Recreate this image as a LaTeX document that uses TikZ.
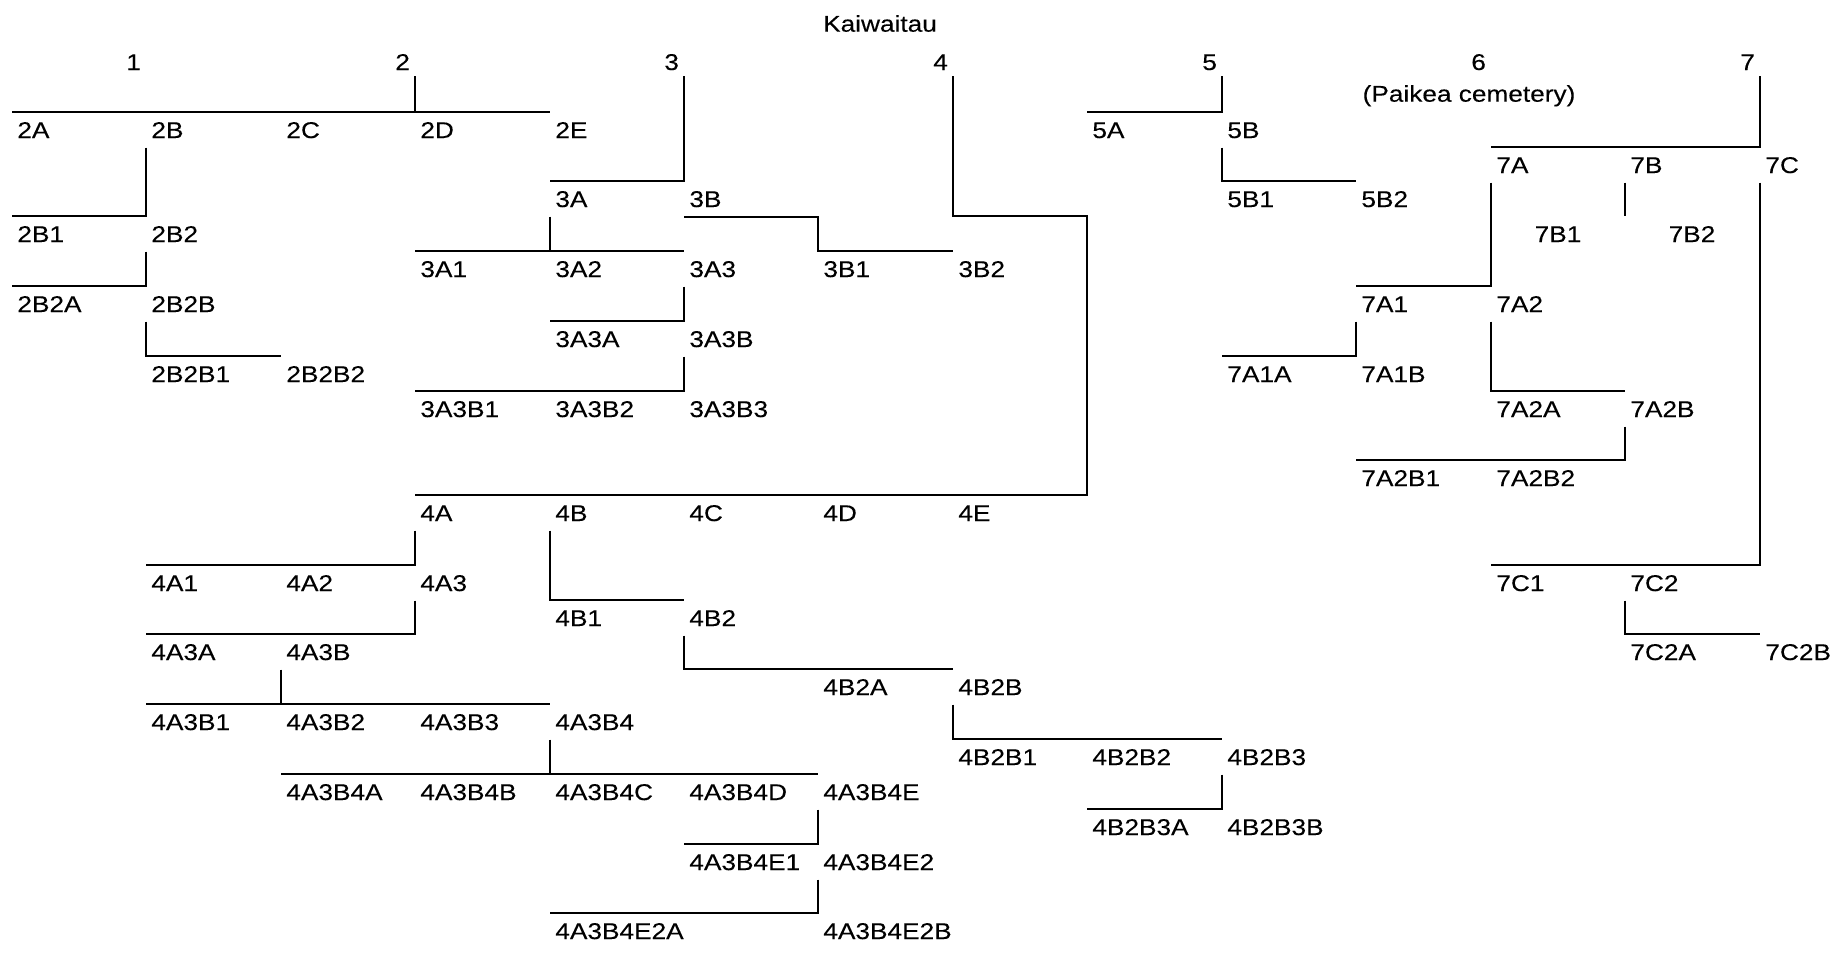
\documentclass[tikz,border=0pt]{standalone}
\usepackage{fontspec}
\setmainfont[FakeStretch=1.15,FakeBold=0.2]{Liberation Sans}
\newcommand\gp[2]{({round(11.7+134.46*(#1))},{round(111.7+34.85*(#2))})}
\begin{document}
\begin{tikzpicture}[x=0.5pt,y=-0.5pt,
  font=\fontsize{11.4pt}{13pt}\selectfont,
  lbl/.style={anchor=north west,inner xsep=2.5pt,inner ysep=4.6125pt,text height=8.2pt,text depth=0pt},
  midlbl/.style={lbl,anchor=north},
  num/.style={anchor=base east,inner sep=0pt},
  title/.style={anchor=base,inner sep=0pt},
  conn/.style={line width=1pt,black}]
\useasboundingbox (0,0) rectangle (1841,954);
% titles and family numbers
\node[title] (kai) at (880,31.7) {Kaiwaitau};
\node[title] (paikea) at (1469,101.7) {(Paikea cemetery)};
\node[num] (n1) at (141.3,70) {1};
\node[num] (n2) at (410.3,70) {2};
\node[num] (n3) at (679.3,70) {3};
\node[num] (n4) at (948.3,70) {4};
\node[num] (n5) at (1217.3,70) {5};
\node[num] (n6) at (1486.3,70) {6};
\node[num] (n7) at (1755.3,70) {7};
\coordinate (t2) at (415,76);
\coordinate (t3) at (684,76);
\coordinate (t4) at (953,76);
\coordinate (t5) at (1222,76);
\coordinate (t7) at (1760,76);
\coordinate (kfour) at (1087,216);
\coordinate (endsevenB) at (1625,216);
% row 0
\node[lbl] (2A) at \gp{0}{0} {2A};
\node[lbl] (2B) at \gp{1}{0} {2B};
\node[lbl] (2C) at \gp{2}{0} {2C};
\node[lbl] (2D) at \gp{3}{0} {2D};
\node[lbl] (2E) at \gp{4}{0} {2E};
\node[lbl] (5A) at \gp{8}{0} {5A};
\node[lbl] (5B) at \gp{9}{0} {5B};
% row 1
\node[lbl] (7A) at \gp{11}{1} {7A};
\node[lbl] (7B) at \gp{12}{1} {7B};
\node[lbl] (7C) at \gp{13}{1} {7C};
% row 2
\node[lbl] (3A) at \gp{4}{2} {3A};
\node[lbl] (3B) at \gp{5}{2} {3B};
\node[lbl] (5B1) at \gp{9}{2} {5B1};
\node[lbl] (5B2) at \gp{10}{2} {5B2};
% row 3
\node[lbl] (2B1) at \gp{0}{3} {2B1};
\node[lbl] (2B2) at \gp{1}{3} {2B2};
\node[midlbl] (7B1) at \gp{11.5}{3} {7B1};
\node[midlbl] (7B2) at \gp{12.5}{3} {7B2};
% row 4
\node[lbl] (3A1) at \gp{3}{4} {3A1};
\node[lbl] (3A2) at \gp{4}{4} {3A2};
\node[lbl] (3A3) at \gp{5}{4} {3A3};
\node[lbl] (3B1) at \gp{6}{4} {3B1};
\node[lbl] (3B2) at \gp{7}{4} {3B2};
% row 5
\node[lbl] (2B2A) at \gp{0}{5} {2B2A};
\node[lbl] (2B2B) at \gp{1}{5} {2B2B};
\node[lbl] (7A1) at \gp{10}{5} {7A1};
\node[lbl] (7A2) at \gp{11}{5} {7A2};
% row 6
\node[lbl] (3A3A) at \gp{4}{6} {3A3A};
\node[lbl] (3A3B) at \gp{5}{6} {3A3B};
% row 7
\node[lbl] (2B2B1) at \gp{1}{7} {2B2B1};
\node[lbl] (2B2B2) at \gp{2}{7} {2B2B2};
\node[lbl] (7A1A) at \gp{9}{7} {7A1A};
\node[lbl] (7A1B) at \gp{10}{7} {7A1B};
% row 8
\node[lbl] (3A3B1) at \gp{3}{8} {3A3B1};
\node[lbl] (3A3B2) at \gp{4}{8} {3A3B2};
\node[lbl] (3A3B3) at \gp{5}{8} {3A3B3};
\node[lbl] (7A2A) at \gp{11}{8} {7A2A};
\node[lbl] (7A2B) at \gp{12}{8} {7A2B};
% row 10
\node[lbl] (7A2B1) at \gp{10}{10} {7A2B1};
\node[lbl] (7A2B2) at \gp{11}{10} {7A2B2};
% row 11
\node[lbl] (4A) at \gp{3}{11} {4A};
\node[lbl] (4B) at \gp{4}{11} {4B};
\node[lbl] (4C) at \gp{5}{11} {4C};
\node[lbl] (4D) at \gp{6}{11} {4D};
\node[lbl] (4E) at \gp{7}{11} {4E};
% row 13
\node[lbl] (4A1) at \gp{1}{13} {4A1};
\node[lbl] (4A2) at \gp{2}{13} {4A2};
\node[lbl] (4A3) at \gp{3}{13} {4A3};
\node[lbl] (7C1) at \gp{11}{13} {7C1};
\node[lbl] (7C2) at \gp{12}{13} {7C2};
% row 14
\node[lbl] (4B1) at \gp{4}{14} {4B1};
\node[lbl] (4B2) at \gp{5}{14} {4B2};
% row 15
\node[lbl] (4A3A) at \gp{1}{15} {4A3A};
\node[lbl] (4A3B) at \gp{2}{15} {4A3B};
\node[lbl] (7C2A) at \gp{12}{15} {7C2A};
\node[lbl] (7C2B) at \gp{13}{15} {7C2B};
% row 16
\node[lbl] (4B2A) at \gp{6}{16} {4B2A};
\node[lbl] (4B2B) at \gp{7}{16} {4B2B};
% row 17
\node[lbl] (4A3B1) at \gp{1}{17} {4A3B1};
\node[lbl] (4A3B2) at \gp{2}{17} {4A3B2};
\node[lbl] (4A3B3) at \gp{3}{17} {4A3B3};
\node[lbl] (4A3B4) at \gp{4}{17} {4A3B4};
% row 18
\node[lbl] (4B2B1) at \gp{7}{18} {4B2B1};
\node[lbl] (4B2B2) at \gp{8}{18} {4B2B2};
\node[lbl] (4B2B3) at \gp{9}{18} {4B2B3};
% row 19
\node[lbl] (4A3B4A) at \gp{2}{19} {4A3B4A};
\node[lbl] (4A3B4B) at \gp{3}{19} {4A3B4B};
\node[lbl] (4A3B4C) at \gp{4}{19} {4A3B4C};
\node[lbl] (4A3B4D) at \gp{5}{19} {4A3B4D};
\node[lbl] (4A3B4E) at \gp{6}{19} {4A3B4E};
% row 20
\node[lbl] (4B2B3A) at \gp{8}{20} {4B2B3A};
\node[lbl] (4B2B3B) at \gp{9}{20} {4B2B3B};
% row 21
\node[lbl] (4A3B4E1) at \gp{5}{21} {4A3B4E1};
\node[lbl] (4A3B4E2) at \gp{6}{21} {4A3B4E2};
% row 23
\node[lbl] (4A3B4E2A) at \gp{4}{23} {4A3B4E2A};
\node[lbl] (4A3B4E2B) at \gp{6}{23} {4A3B4E2B};
% family 2
\draw[conn] (2A.north west) -- (2E.north west);
\draw[conn] (t2) -- (2D.north west);
\draw[conn] (2B.south west) |- (2B1.north west);
\draw[conn] (2B2.south west) |- (2B2A.north west);
\draw[conn] (2B2B.south west) |- (2B2B2.north west);
% family 3
\draw[conn] (t3) |- (3A.north west);
\draw[conn] (3A.south west) -- (3A2.north west);
\draw[conn] (3A1.north west) -- (3A3.north west);
\draw[conn] (3B.south west) -| (3B1.north west) -- (3B2.north west);
\draw[conn] (3A3.south west) |- (3A3A.north west);
\draw[conn] (3A3B.south west) |- (3A3B1.north west);
% family 4
\draw[conn] (t4) |- (kfour) |- (4A.north west);
\draw[conn] (4A.south west) |- (4A1.north west);
\draw[conn] (4B.south west) |- (4B2.north west);
\draw[conn] (4A3.south west) |- (4A3A.north west);
\draw[conn] (4B2.south west) |- (4B2B.north west);
\draw[conn] (4A3B.south west) -- (4A3B2.north west);
\draw[conn] (4A3B1.north west) -- (4A3B4.north west);
\draw[conn] (4B2B.south west) |- (4B2B3.north west);
\draw[conn] (4A3B4.south west) -- (4A3B4C.north west);
\draw[conn] (4A3B4A.north west) -- (4A3B4E.north west);
\draw[conn] (4B2B3.south west) |- (4B2B3A.north west);
\draw[conn] (4A3B4E.south west) |- (4A3B4E1.north west);
\draw[conn] (4A3B4E2.south west) |- (4A3B4E2A.north west);
% family 5
\draw[conn] (t5) |- (5A.north west);
\draw[conn] (5B.south west) |- (5B2.north west);
% family 7
\draw[conn] (t7) |- (7A.north west);
\draw[conn] (7A.south west) |- (7A1.north west);
\draw[conn] (7B.south west) -- (endsevenB);
\draw[conn] (7C.south west) |- (7C1.north west);
\draw[conn] (7A1.south west) |- (7A1A.north west);
\draw[conn] (7A2.south west) |- (7A2B.north west);
\draw[conn] (7A2B.south west) |- (7A2B1.north west);
\draw[conn] (7C2.south west) |- (7C2B.north west);
\end{tikzpicture}
\end{document}
